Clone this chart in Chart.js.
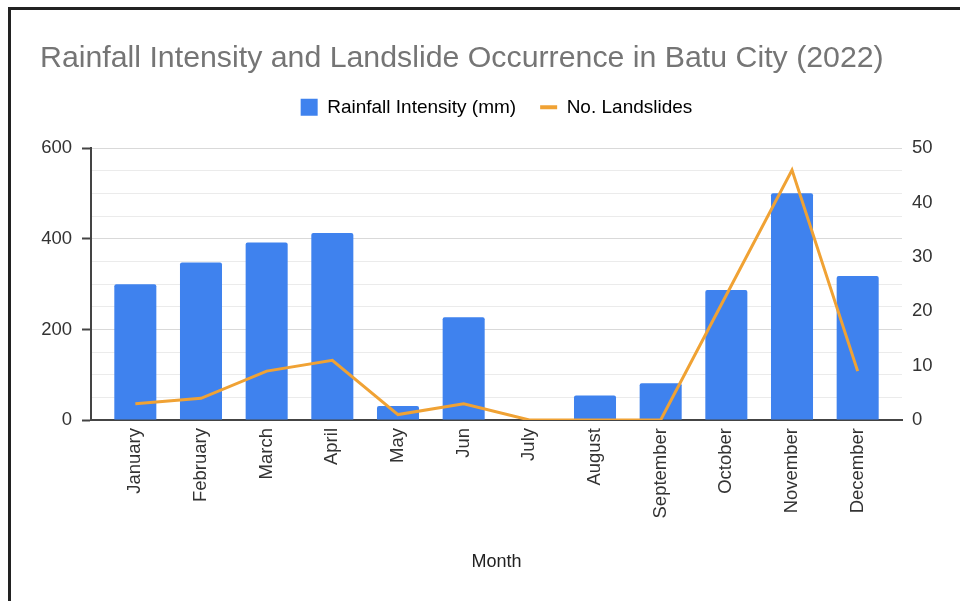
<!DOCTYPE html>
<html>
<head>
<meta charset="utf-8">
<title>Rainfall Intensity and Landslide Occurrence in Batu City (2022)</title>
<script src="https://cdn.jsdelivr.net/npm/chart.js@4.4.1/dist/chart.umd.min.js"></script>
<style>
  html, body { margin: 0; padding: 0; background: #ffffff; }
  #wrap { position: relative; width: 960px; height: 601px; overflow: hidden; }
  #frame {
    position: absolute; left: 8px; top: 7px; right: 0; bottom: 0;
    border-top: 3px solid #222; border-left: 3px solid #222;
  }
  #chart { position: absolute; left: 0; top: 0; }
</style>
</head>
<body>
<div id="wrap">
  <div id="frame"></div>
  <canvas id="chart" width="960" height="601"></canvas>
</div>
<script>
// Monthly figures for Batu City, 2022
const months = ['January', 'February', 'March', 'April', 'May', 'Jun', 'July',
                'August', 'September', 'October', 'November', 'December'];
const rainfallMm = [300, 348, 392, 413, 31, 227, 0, 54, 81, 287, 501, 318];
const landslides = [3, 4, 9, 11, 1, 3, 0, 0, 0, 23, 46, 9];

// Left axis: labelled ticks and the lighter in-between grid lines
const rainfallTicks = [0, 200, 400, 600];
const rainfallGrid = [0, 50, 100, 150, 200, 250, 300, 350, 400, 450, 500, 550, 600];
// Right axis ticks
const landslideTicks = [0, 10, 20, 30, 40, 50];

const BLUE = '#3f82ee';
const ORANGE = '#f0a234';
const FONT = "'Liberation Sans', Arial, Helvetica, sans-serif";

Chart.defaults.font.family = FONT;
Chart.defaults.color = '#333';

// Extra room between the legend row and the plot
const legendGap = {
  id: 'legendGap',
  beforeInit(chart) {
    const lg = chart.legend;
    if (!lg || lg._gapPatched) return;
    const fit = lg.fit;
    lg.fit = function () { fit.call(this); this.height += 21.5; };
    lg._gapPatched = true;
  }
};

const isMajor = (v) => rainfallTicks.includes(v);

new Chart(document.getElementById('chart'), {
  type: 'bar',
  data: {
    datasets: [
      {
        type: 'bar',
        label: 'Rainfall Intensity (mm)',
        data: rainfallMm.map((v, i) => ({ x: i, y: v })),
        backgroundColor: BLUE,
        borderWidth: 0,
        borderRadius: 2,
        borderSkipped: 'bottom',
        categoryPercentage: 0.8,
        barPercentage: 0.8,
        yAxisID: 'y',
        order: 1
      },
      {
        type: 'line',
        label: 'No. Landslides',
        data: landslides.map((v, i) => ({ x: i, y: v })),
        borderColor: ORANGE,
        backgroundColor: ORANGE,
        borderWidth: 3,
        pointRadius: 0,
        tension: 0,
        yAxisID: 'y1',
        order: 0
      }
    ]
  },
  options: {
    responsive: false,
    animation: false,
    devicePixelRatio: 1,
    layout: { padding: { left: 40, right: 0, top: 0, bottom: 0 } },
    plugins: {
      tooltip: { enabled: false },
      title: {
        display: true,
        text: 'Rainfall Intensity and Landslide Occurrence in Batu City (2022)',
        align: 'start',
        color: '#757575',
        font: { size: 30.3, weight: 'normal', lineHeight: 1.0 },
        padding: { top: 43, bottom: 0.5 }
      },
      legend: {
        display: true,
        position: 'top',
        align: 'center',
        fullSize: false,
        labels: {
          usePointStyle: true,
          pointStyleWidth: 17,
          boxHeight: 17,
          padding: 24,
          color: '#333',
          font: { size: 19 },
          generateLabels(chart) {
            return chart.data.datasets.map((ds, i) => ({
              text: ds.label,
              fillStyle: ds.type === 'line' ? ds.borderColor : ds.backgroundColor,
              strokeStyle: ds.type === 'line' ? ds.borderColor : ds.backgroundColor,
              lineWidth: ds.type === 'line' ? 4 : 0,
              pointStyle: ds.type === 'line' ? 'line' : 'rect',
              hidden: false,
              datasetIndex: i
            }));
          }
        }
      }
    },
    scales: {
      x: {
        type: 'linear',
        offset: false,
        min: -0.675,
        max: months.length - 1 + 0.675,
        z: 1,
        afterBuildTicks(scale) {
          scale.ticks = months.map((m, i) => ({ value: i }));
        },
        afterFit(scale) { scale.height = 181; },
        grid: { display: false, drawTicks: false, offset: false },
        border: { display: true, color: '#444', width: 2 },
        ticks: {
          autoSkip: false,
          maxRotation: 90,
          minRotation: 90,
          padding: 8,
          color: '#333',
          font: { size: 18.5 },
          callback: (v) => months[v]
        },
        title: {
          display: true,
          text: 'Month',
          color: '#222',
          font: { size: 18 },
          padding: { top: 0, bottom: 28 }
        }
      },
      y: {
        type: 'linear',
        position: 'left',
        min: 0,
        max: 600,
        afterFit(scale) { scale.width = 51; },
        afterBuildTicks(scale) {
          scale.ticks = rainfallGrid.map((v) => ({ value: v }));
        },
        grid: {
          color: (ctx) => (ctx.tick && isMajor(ctx.tick.value)) ? '#d9d9d9' : '#ebebeb',
          lineWidth: 1,
          drawTicks: true,
          tickLength: 9,
          tickWidth: 2,
          tickColor: (ctx) => (ctx.tick && isMajor(ctx.tick.value)) ? '#444' : 'rgba(0,0,0,0)'
        },
        border: { display: true, color: '#444', width: 2 },
        ticks: {
          autoSkip: false,
          padding: 10,
          color: '#333',
          font: { size: 18.5 },
          callback: (v) => isMajor(v) ? String(v) : ''
        }
      },
      y1: {
        type: 'linear',
        position: 'right',
        min: 0,
        max: 50,
        afterFit(scale) { scale.width = 58; },
        afterBuildTicks(scale) {
          scale.ticks = landslideTicks.map((v) => ({ value: v }));
        },
        grid: { display: false, drawTicks: false, drawOnChartArea: false },
        border: { display: false },
        ticks: {
          autoSkip: false,
          padding: 10,
          color: '#333',
          font: { size: 18.5 }
        }
      }
    }
  },
  plugins: [legendGap]
});
</script>
</body>
</html>
